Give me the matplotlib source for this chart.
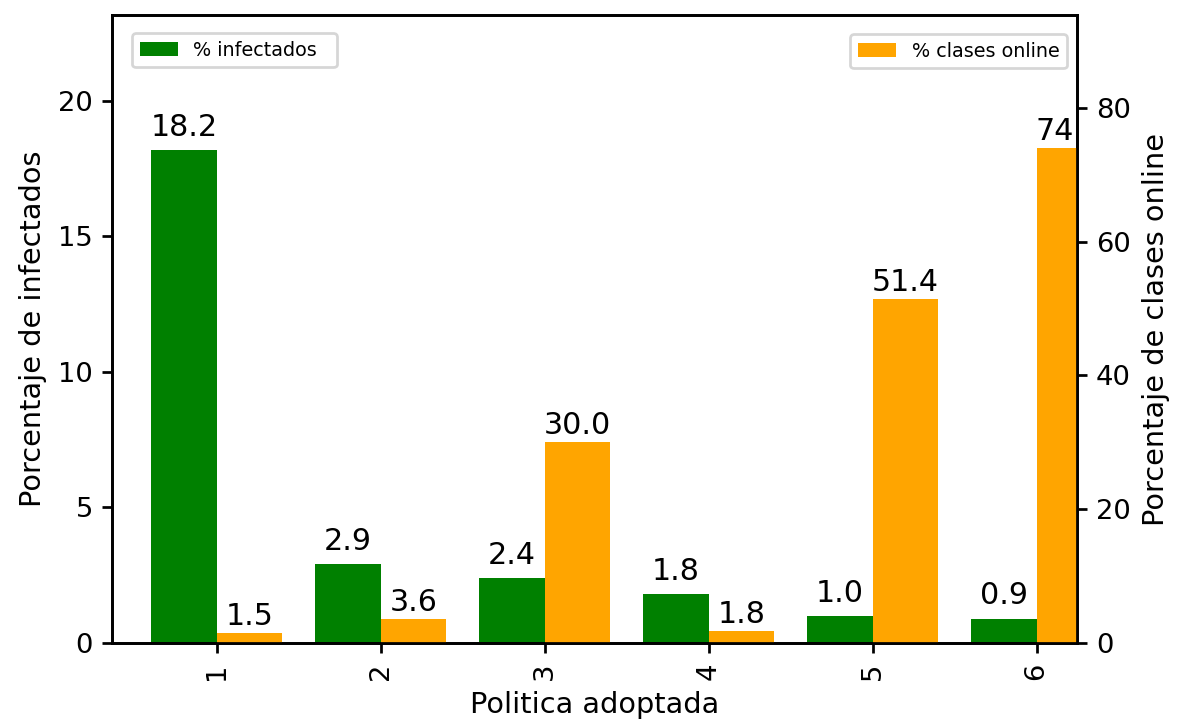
import numpy as np
import matplotlib
matplotlib.use("Agg")
import matplotlib.pyplot as plt

# Resultados por politica
politicas = [1, 2, 3, 4, 5, 6]
infectados = [18.2, 2.9, 2.4, 1.8, 1.0, 0.9]
clases_online = [1.5, 3.6, 30.0, 1.8, 51.4, 74.0]

ancho = 0.4
x = np.array(politicas, dtype=float)

plt.rcParams["axes.linewidth"] = 1.0
plt.rcParams["xtick.major.width"] = 1.0
plt.rcParams["ytick.major.width"] = 1.0

fig = plt.figure(figsize=(1177 / 197, 719 / 197), dpi=197)
ax1 = fig.add_axes([0.0952, 0.1057, 0.8198, 0.8734])
ax2 = ax1.twinx()

b1 = ax1.bar(x - ancho / 2, infectados, ancho, color="green", label="% infectados  ")
b2 = ax2.bar(x + ancho / 2, clases_online, ancho, color="orange", label="% clases online")

# etiquetas encima de cada barra
for ax, barras, vals in [(ax1, b1, infectados), (ax2, b2, clases_online)]:
    for rect, v in zip(barras, vals):
        ax.text(rect.get_x() + rect.get_width() / 2, v + 0.3, f"{v:.1f}",
                ha="center", va="bottom", fontsize=11, clip_on=True)

ax1.set_xlim(0.3616, 6.246)
ax1.set_ylim(0, 23.17)
ax2.set_ylim(0, 93.9)

ax1.set_xticks(politicas)
ax1.set_xticklabels([str(p) for p in politicas], rotation=90, fontsize=10)
ax1.tick_params(axis="y", labelsize=10)
ax2.tick_params(axis="y", labelsize=10)

ax1.set_xlabel("Politica adoptada", fontsize=10.5)
ax1.set_ylabel("Porcentaje de infectados", fontsize=10.5)
ax2.set_ylabel("Porcentaje de clases online", fontsize=10.5)

ax1.legend(loc="upper left", bbox_to_anchor=(0.0207, 0.9713), borderaxespad=0, fontsize=7)
ax2.legend(loc="upper right", bbox_to_anchor=(0.9896, 0.9697), borderaxespad=0, fontsize=7)

fig.savefig("out.png", dpi=197)
